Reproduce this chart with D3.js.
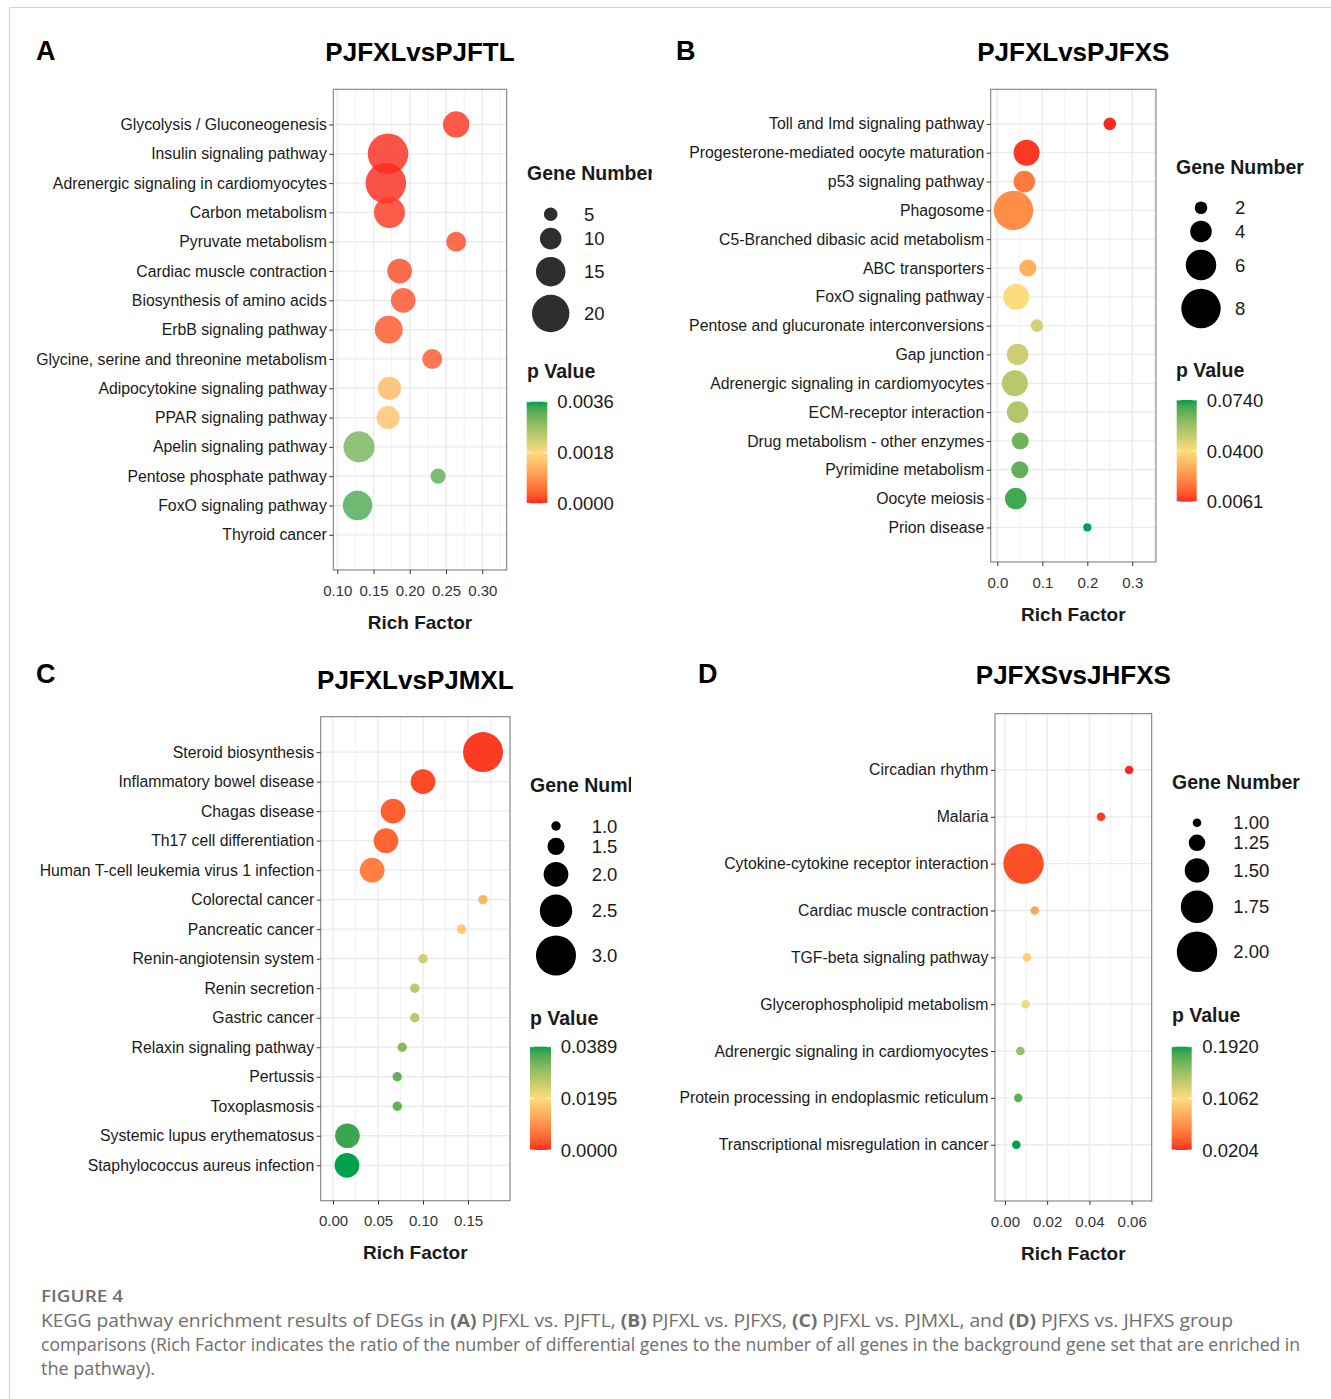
<!DOCTYPE html>
<html>
<head>
<meta charset="utf-8">
<script src="https://cdn.jsdelivr.net/npm/d3@7"></script>
<style>
  body { margin: 0; background: #fff; }
  svg { display: block; font-family: "Liberation Sans", Arial, Helvetica, sans-serif; }
</style>
</head>
<body>
<svg id="fig" width="1331" height="1399"></svg>
<script>
// ---------- KEGG enrichment data, one block per comparison ----------

// A: PJFXL vs PJFTL
const categoriesA = [
  "Glycolysis / Gluconeogenesis", "Insulin signaling pathway",
  "Adrenergic signaling in cardiomyocytes", "Carbon metabolism",
  "Pyruvate metabolism", "Cardiac muscle contraction",
  "Biosynthesis of amino acids", "ErbB signaling pathway",
  "Glycine, serine and threonine metabolism", "Adipocytokine signaling pathway",
  "PPAR signaling pathway", "Apelin signaling pathway",
  "Pentose phosphate pathway", "FoxO signaling pathway", "Thyroid cancer"
];
const richFactorA = [0.264, 0.170, 0.167, 0.172, 0.264, 0.186, 0.191, 0.171, 0.231, 0.172, 0.170, 0.130, 0.239, 0.128, null];
const geneNumberA = [13, 22, 22, 16, 9, 12, 12, 14, 9, 11, 11, 16, 6, 15, null];
const pValueA     = [0.00005, 0.00002, 0.00001, 0.00008, 0.0002, 0.0002, 0.00025, 0.0003, 0.0003, 0.00137, 0.0015, 0.0030, 0.0032, 0.0033, null];
const xTicksA = [0.10, 0.15, 0.20, 0.25, 0.30];
const sizeBreaksA = [5, 10, 15, 20];
const sizeLabelsA = ["5", "10", "15", "20"];
const pBreaksA = [0.0000, 0.0018, 0.0036];
const pLabelsA = ["0.0000", "0.0018", "0.0036"];

// B: PJFXL vs PJFXS
const categoriesB = [
  "Toll and Imd signaling pathway", "Progesterone-mediated oocyte maturation",
  "p53 signaling pathway", "Phagosome", "C5-Branched dibasic acid metabolism",
  "ABC transporters", "FoxO signaling pathway",
  "Pentose and glucuronate interconversions", "Gap junction",
  "Adrenergic signaling in cardiomyocytes", "ECM-receptor interaction",
  "Drug metabolism - other enzymes", "Pyrimidine metabolism",
  "Oocyte meiosis", "Prion disease"
];
const richFactorB = [0.250, 0.065, 0.060, 0.036, null, 0.068, 0.042, 0.088, 0.045, 0.039, 0.045, 0.051, 0.050, 0.041, 0.200];
const geneNumberB = [2, 5, 4, 8, null, 3, 5, 2, 4, 5, 4, 3, 3, 4, 1];
const pValueB     = [0.0061, 0.0075, 0.018, 0.022, null, 0.030, 0.040, 0.047, 0.048, 0.052, 0.053, 0.064, 0.066, 0.070, 0.0740];
const xTicksB = [0.0, 0.1, 0.2, 0.3];
const sizeBreaksB = [2, 4, 6, 8];
const sizeLabelsB = ["2", "4", "6", "8"];
const pBreaksB = [0.0061, 0.0400, 0.0740];
const pLabelsB = ["0.0061", "0.0400", "0.0740"];

// C: PJFXL vs PJMXL
const categoriesC = [
  "Steroid biosynthesis", "Inflammatory bowel disease", "Chagas disease",
  "Th17 cell differentiation", "Human T-cell leukemia virus 1 infection",
  "Colorectal cancer", "Pancreatic cancer", "Renin-angiotensin system",
  "Renin secretion", "Gastric cancer", "Relaxin signaling pathway",
  "Pertussis", "Toxoplasmosis", "Systemic lupus erythematosus",
  "Staphylococcus aureus infection"
];
const richFactorC = [0.1667, 0.100, 0.0667, 0.0588, 0.0435, 0.1667, 0.1429, 0.100, 0.0909, 0.0909, 0.0769, 0.0714, 0.0714, 0.016, 0.0155];
const geneNumberC = [3, 2, 2, 2, 2, 1, 1, 1, 1, 1, 1, 1, 1, 2, 2];
const pValueC     = [0.001, 0.002, 0.004, 0.0045, 0.0075, 0.014, 0.017, 0.024, 0.026, 0.026, 0.031, 0.034, 0.034, 0.037, 0.0389];
const xTicksC = [0.00, 0.05, 0.10, 0.15];
const sizeBreaksC = [1.0, 1.5, 2.0, 2.5, 3.0];
const sizeLabelsC = ["1.0", "1.5", "2.0", "2.5", "3.0"];
const pBreaksC = [0.0000, 0.0195, 0.0389];
const pLabelsC = ["0.0000", "0.0195", "0.0389"];

// D: PJFXS vs JHFXS
const categoriesD = [
  "Circadian rhythm", "Malaria", "Cytokine-cytokine receptor interaction",
  "Cardiac muscle contraction", "TGF-beta signaling pathway",
  "Glycerophospholipid metabolism", "Adrenergic signaling in cardiomyocytes",
  "Protein processing in endoplasmic reticulum",
  "Transcriptional misregulation in cancer"
];
const richFactorD = [0.0588, 0.0455, 0.0088, 0.0141, 0.0104, 0.0098, 0.0073, 0.0063, 0.0054];
const geneNumberD = [1, 1, 2, 1, 1, 1, 1, 1, 1];
const pValueD     = [0.0204, 0.025, 0.032, 0.075, 0.100, 0.110, 0.150, 0.172, 0.1920];
const xTicksD = [0.00, 0.02, 0.04, 0.06];
const sizeBreaksD = [1.00, 1.25, 1.50, 1.75, 2.00];
const sizeLabelsD = ["1.00", "1.25", "1.50", "1.75", "2.00"];
const pBreaksD = [0.0204, 0.1062, 0.1920];
const pLabelsD = ["0.0204", "0.1062", "0.1920"];

// ---------- layout and styling for each sub-plot ----------
const panels = [
  { id: "A", letterX: 36, letterY: 60, title: "PJFXLvsPJFTL", titleY: 61,
    cats: categoriesA, rich: richFactorA, genes: geneNumberA, pv: pValueA,
    xTicks: xTicksA, xFmt: ".2f", xDomain: [0.0945, 0.3337],
    box: { l: 333.3, r: 506.7, t: 89.3, b: 570 },
    sizeBreaks: sizeBreaksA, sizeLabels: sizeLabelsA, rRange: [6.8, 18.7],
    pBreaks: pBreaksA, pLabels: pLabelsA, alpha: 0.82,
    lg: { x: 527, sizeTitleY: 180, cx: 550.7, lx: 584, firstY: 214.3,
          pTitleY: 378, barX: 526.7, barT: 401.7, barB: 503.3, barW: 20.6, barLx: 557.3, clipR: 652 } },
  { id: "B", letterX: 676, letterY: 60, title: "PJFXLvsPJFXS", titleY: 61,
    cats: categoriesB, rich: richFactorB, genes: geneNumberB, pv: pValueB,
    xTicks: xTicksB, xFmt: ".1f", xDomain: [-0.0147, 0.3527],
    box: { l: 990.7, r: 1156, t: 89.3, b: 562 },
    sizeBreaks: sizeBreaksB, sizeLabels: sizeLabelsB, rRange: [6.3, 19.7],
    pBreaks: pBreaksB, pLabels: pLabelsB, alpha: 1,
    lg: { x: 1176, sizeTitleY: 173.5, cx: 1201, lx: 1235, firstY: 207.7,
          pTitleY: 377, barX: 1176.7, barT: 400, barB: 501.7, barW: 20, barLx: 1206.7, clipR: 1331 } },
  { id: "C", letterX: 36, letterY: 683, title: "PJFXLvsPJMXL", titleY: 689,
    cats: categoriesC, rich: richFactorC, genes: geneNumberC, pv: pValueC,
    xTicks: xTicksC, xFmt: ".2f", xDomain: [-0.0137, 0.1967],
    box: { l: 320.7, r: 510, t: 716.7, b: 1200.7 },
    sizeBreaks: sizeBreaksC, sizeLabels: sizeLabelsC, rRange: [4.7, 20],
    pBreaks: pBreaksC, pLabels: pLabelsC, alpha: 1,
    lg: { x: 530, sizeTitleY: 792, cx: 556, lx: 591.7, firstY: 826,
          pTitleY: 1025, barX: 530, barT: 1046.7, barB: 1150, barW: 21, barLx: 560.7, clipR: 631 } },
  { id: "D", letterX: 698, letterY: 683, title: "PJFXSvsJHFXS", titleY: 684,
    cats: categoriesD, rich: richFactorD, genes: geneNumberD, pv: pValueD,
    xTicks: xTicksD, xFmt: ".2f", xDomain: [-0.0047, 0.0695],
    box: { l: 995, r: 1151.7, t: 713.7, b: 1201 },
    sizeBreaks: sizeBreaksD, sizeLabels: sizeLabelsD, rRange: [4.3, 20.2],
    pBreaks: pBreaksD, pLabels: pLabelsD, alpha: 1,
    lg: { x: 1172, sizeTitleY: 788.5, cx: 1197, lx: 1233.3, firstY: 822.7,
          pTitleY: 1021.5, barX: 1171.7, barT: 1046.7, barB: 1150, barW: 20, barLx: 1202.3, clipR: 1331 } }
];

const RED = "#FA2A1E", YELLOW = "#FCDC7E", GREEN = "#00A04C";
const GRID = "#EBEBEB", BORDER = "#808080", INK = "#1a1a1a", AXIS_INK = "#333333";

const svg = d3.select("#fig");
const defs = svg.append("defs");

// frame lines of the figure page
svg.append("line").attr("x1", 9.5).attr("y1", 7.5).attr("x2", 1331).attr("y2", 7.5)
  .attr("stroke", "#d4d4d4").attr("stroke-width", 1.2);
svg.append("line").attr("x1", 9.5).attr("y1", 7.5).attr("x2", 9.5).attr("y2", 1399)
  .attr("stroke", "#d4d4d4").attr("stroke-width", 1.2);

panels.forEach(P => {
  const g = svg.append("g").attr("class", "panel-" + P.id);
  const { l, r, t, b } = P.box;
  const cx = (l + r) / 2;

  const x = d3.scaleLinear().domain(P.xDomain).range([l, r]);
  const y = d3.scalePoint().domain(P.cats).range([t, b]).padding(1.2);
  const pMin = P.pBreaks[0], pMax = P.pBreaks[P.pBreaks.length - 1];
  const color = d3.scaleLinear()
    .domain([pMin, (pMin + pMax) / 2, pMax])
    .range([RED, YELLOW, GREEN])
    .interpolate(d3.interpolateLab)
    .clamp(true);
  const sb = P.sizeBreaks;
  const rad = d3.scaleLinear().domain([sb[0], sb[sb.length - 1]]).range(P.rRange);

  // panel letter and title
  g.append("text").attr("x", P.letterX).attr("y", P.letterY)
    .attr("font-size", 27).attr("font-weight", "bold").attr("fill", "#000").text(P.id);
  g.append("text").attr("x", cx).attr("y", P.titleY).attr("text-anchor", "middle")
    .attr("font-size", 26).attr("font-weight", "bold").attr("fill", "#000").text(P.title);

  // panel background
  g.append("rect").attr("x", l).attr("y", t).attr("width", r - l).attr("height", b - t)
    .attr("fill", "#fff");

  // minor vertical grid at midpoints between ticks
  const tk = P.xTicks, step = tk[1] - tk[0];
  const minor = [];
  for (let i = -1; i < tk.length; i++) {
    const v = tk[0] + step * (i + 0.5);
    if (v > P.xDomain[0] && v < P.xDomain[1]) minor.push(v);
  }
  g.append("g").selectAll("line").data(minor).join("line")
    .attr("x1", d => x(d)).attr("x2", d => x(d)).attr("y1", t).attr("y2", b)
    .attr("stroke", GRID).attr("stroke-width", 0.7);
  // major vertical grid
  g.append("g").selectAll("line").data(tk).join("line")
    .attr("x1", d => x(d)).attr("x2", d => x(d)).attr("y1", t).attr("y2", b)
    .attr("stroke", GRID).attr("stroke-width", 1.3);
  // horizontal grid per pathway
  g.append("g").selectAll("line").data(P.cats).join("line")
    .attr("x1", l).attr("x2", r).attr("y1", d => y(d)).attr("y2", d => y(d))
    .attr("stroke", GRID).attr("stroke-width", 1.3);

  // bubbles
  const rows = P.cats.map((c, i) => ({ cat: c, rich: P.rich[i], genes: P.genes[i], p: P.pv[i] }))
    .filter(d => d.rich != null);
  g.append("g").selectAll("circle").data(rows).join("circle")
    .attr("cx", d => x(d.rich)).attr("cy", d => y(d.cat)).attr("r", d => rad(d.genes))
    .attr("fill", d => color(d.p)).attr("fill-opacity", P.alpha);

  // border
  g.append("rect").attr("x", l).attr("y", t).attr("width", r - l).attr("height", b - t)
    .attr("fill", "none").attr("stroke", BORDER).attr("stroke-width", 1.1);

  // axes
  const yAxis = g.append("g").attr("transform", `translate(${l},0)`)
    .call(d3.axisLeft(y).tickSize(4).tickPadding(2.5));
  yAxis.select(".domain").remove();
  yAxis.selectAll("line").attr("stroke", AXIS_INK);
  yAxis.selectAll("text").attr("font-size", 15.8).attr("fill", INK)
    .attr("font-family", "'Liberation Sans', Arial, sans-serif");

  const xAxis = g.append("g").attr("transform", `translate(0,${b})`)
    .call(d3.axisBottom(x).tickValues(tk).tickFormat(d3.format(P.xFmt)).tickSize(4).tickPadding(11));
  xAxis.select(".domain").remove();
  xAxis.selectAll("line").attr("stroke", AXIS_INK);
  xAxis.selectAll("text").attr("font-size", 15).attr("fill", AXIS_INK)
    .attr("font-family", "'Liberation Sans', Arial, sans-serif");

  g.append("text").attr("x", cx).attr("y", b + 58.5).attr("text-anchor", "middle")
    .attr("font-size", 19).attr("font-weight", "bold").attr("fill", INK).text("Rich Factor");

  // ---------- legends ----------
  const L = P.lg;
  defs.append("clipPath").attr("id", "clip-" + P.id)
    .append("rect").attr("x", L.x - 10).attr("y", 0).attr("width", L.clipR - L.x + 10).attr("height", 1399);
  const lg = g.append("g").attr("clip-path", `url(#clip-${P.id})`);

  lg.append("text").attr("x", L.x).attr("y", L.sizeTitleY)
    .attr("font-size", 19.5).attr("font-weight", "bold").attr("fill", INK).text("Gene Number");

  // size keys stacked by their own height
  const keyH = v => Math.max(17, 1.1 * 2 * rad(v) + 5);
  const centers = [];
  sb.forEach((v, i) => {
    centers.push(i === 0 ? L.firstY : centers[i - 1] + (keyH(sb[i - 1]) + keyH(v)) / 2);
  });
  lg.append("g").selectAll("circle").data(sb).join("circle")
    .attr("cx", L.cx).attr("cy", (d, i) => centers[i]).attr("r", d => rad(d))
    .attr("fill", "#000").attr("fill-opacity", P.alpha);
  lg.append("g").selectAll("text").data(P.sizeLabels).join("text")
    .attr("x", L.lx).attr("y", (d, i) => centers[i]).attr("dy", "0.36em")
    .attr("font-size", 18.5).attr("fill", INK).text(d => d);

  lg.append("text").attr("x", L.x).attr("y", L.pTitleY)
    .attr("font-size", 19.5).attr("font-weight", "bold").attr("fill", INK).text("p Value");

  // colour bar
  const gradId = "grad-" + P.id;
  const grad = defs.append("linearGradient").attr("id", gradId)
    .attr("x1", 0).attr("y1", 1).attr("x2", 0).attr("y2", 0);
  d3.range(0, 1.0001, 0.05).forEach(s => {
    grad.append("stop").attr("offset", s).attr("stop-color", color(pMin + s * (pMax - pMin)));
  });
  lg.append("rect").attr("x", L.barX).attr("y", L.barT).attr("width", L.barW).attr("height", L.barB - L.barT)
    .attr("fill", `url(#${gradId})`);
  const by = d3.scaleLinear().domain([pMin, pMax]).range([L.barB, L.barT]);
  const tickW = L.barW / 5;
  lg.append("g").selectAll("path").data(P.pBreaks).join("path")
    .attr("d", d => `M${L.barX},${by(d)}h${tickW}M${L.barX + L.barW - tickW},${by(d)}h${tickW}`)
    .attr("stroke", "#fff").attr("stroke-width", 0.8);
  lg.append("g").selectAll("text").data(P.pBreaks).join("text")
    .attr("x", L.barLx).attr("y", d => by(d)).attr("dy", "0.36em")
    .attr("font-size", 18.5).attr("fill", INK).text((d, i) => P.pLabels[i]);
});

// ---------- figure caption ----------
const cap = svg.append("g").attr("font-family", "'Open Sans', 'Noto Sans', sans-serif").attr("fill", "#6e6e6e");
cap.append("text").attr("x", 41).attr("y", 1302).attr("font-size", 17).attr("font-weight", 600)
  .attr("textLength", 82).attr("lengthAdjust", "spacingAndGlyphs").text("FIGURE 4");

const line1 = cap.append("text").attr("x", 41).attr("y", 1326.5).attr("font-size", 17.5)
  .attr("textLength", 1192).attr("lengthAdjust", "spacingAndGlyphs");
[["KEGG pathway enrichment results of DEGs in ", false], ["(A)", true], [" PJFXL vs. PJFTL, ", false],
 ["(B)", true], [" PJFXL vs. PJFXS, ", false], ["(C)", true], [" PJFXL vs. PJMXL, and ", false],
 ["(D)", true], [" PJFXS vs. JHFXS group", false]].forEach(([s, bold]) => {
  line1.append("tspan").attr("font-weight", bold ? 700 : 400).text(s);
});
cap.append("text").attr("x", 41).attr("y", 1350.5).attr("font-size", 17.5)
  .attr("textLength", 1259).attr("lengthAdjust", "spacingAndGlyphs")
  .text("comparisons (Rich Factor indicates the ratio of the number of differential genes to the number of all genes in the background gene set that are enriched in");
cap.append("text").attr("x", 41).attr("y", 1374.5).attr("font-size", 17.5)
  .attr("textLength", 114).attr("lengthAdjust", "spacingAndGlyphs")
  .text("the pathway).");
</script>
</body>
</html>
